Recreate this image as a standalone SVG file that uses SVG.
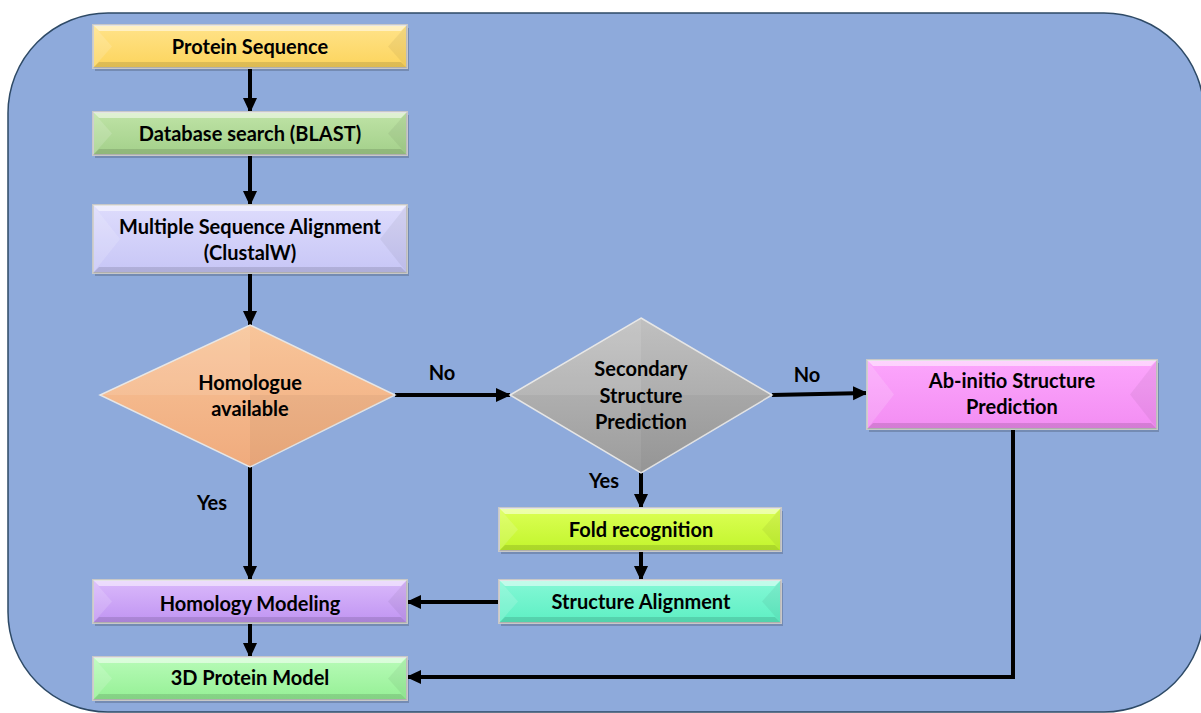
<svg xmlns="http://www.w3.org/2000/svg" width="1201" height="713" viewBox="0 0 1201 713">
<style>
text{font-family:Lato,"Liberation Sans",sans-serif;font-weight:bold;font-size:20px;fill:#000;text-anchor:middle}
.box{stroke:#c8c8c8;stroke-width:2}
.top{fill:#fff;opacity:.5}
.bot{fill:#000;opacity:.12}
.lft{fill:#fff;opacity:.15}
.rgt{fill:#000;opacity:.05}
.shadow{fill:#000;opacity:.18}
.dia{stroke:#e6e6e6;stroke-width:1.5}
.con{fill:none;stroke:#000;stroke-width:4}
.arr{marker-end:url(#ah)}
</style>
<defs>
<marker id="ah" markerUnits="userSpaceOnUse" markerWidth="16" markerHeight="16" refX="14" refY="8" orient="auto">
<path d="M0,1 L15,8 L0,15 Z" fill="#000"/>
</marker>
<linearGradient id="gY" x1="0" y1="0" x2="0" y2="1"><stop offset="0" stop-color="#ffe38a"/><stop offset="1" stop-color="#fcd45c"/></linearGradient>
<linearGradient id="gG" x1="0" y1="0" x2="0" y2="1"><stop offset="0" stop-color="#bfe3a6"/><stop offset="1" stop-color="#a3d08a"/></linearGradient>
<linearGradient id="gL" x1="0" y1="0" x2="0" y2="1"><stop offset="0" stop-color="#dedcfc"/><stop offset="1" stop-color="#c7c6f6"/></linearGradient>
<linearGradient id="gO" x1="0" y1="0" x2="0" y2="1"><stop offset="0" stop-color="#f8c59a"/><stop offset="1" stop-color="#f0ab7d"/></linearGradient>
<linearGradient id="gS" x1="0" y1="0" x2="0" y2="1"><stop offset="0" stop-color="#c0c0c0"/><stop offset="1" stop-color="#9c9c9c"/></linearGradient>
<linearGradient id="gP" x1="0" y1="0" x2="0" y2="1"><stop offset="0" stop-color="#fca6fc"/><stop offset="1" stop-color="#f38df3"/></linearGradient>
<linearGradient id="gF" x1="0" y1="0" x2="0" y2="1"><stop offset="0" stop-color="#dcff55"/><stop offset="1" stop-color="#c2f52c"/></linearGradient>
<linearGradient id="gA" x1="0" y1="0" x2="0" y2="1"><stop offset="0" stop-color="#85f8d6"/><stop offset="1" stop-color="#5defc3"/></linearGradient>
<linearGradient id="gV" x1="0" y1="0" x2="0" y2="1"><stop offset="0" stop-color="#dab9fb"/><stop offset="1" stop-color="#c094f2"/></linearGradient>
<linearGradient id="gM" x1="0" y1="0" x2="0" y2="1"><stop offset="0" stop-color="#b8fbb8"/><stop offset="1" stop-color="#95f095"/></linearGradient>
</defs>
<rect width="1201" height="713" fill="#fff"/>
<rect x="8" y="13" width="1196" height="699" rx="100" ry="100" fill="#8eaadb" stroke="#2e4a66" stroke-width="1.5"/>

<g id="connectors">
<line class="con arr" x1="250" y1="68" x2="250" y2="112"/>
<line class="con arr" x1="250" y1="155" x2="250" y2="205"/>
<line class="con arr" x1="250" y1="273" x2="250" y2="325"/>
<line class="con arr" x1="250" y1="467" x2="250" y2="580"/>
<line class="con arr" x1="250" y1="623" x2="250" y2="657"/>
<line class="con arr" x1="395" y1="395" x2="510" y2="395"/>
<line class="con arr" x1="772" y1="395" x2="867" y2="393"/>
<line class="con arr" x1="641" y1="473" x2="641" y2="508"/>
<line class="con arr" x1="641" y1="551" x2="641" y2="580"/>
<line class="con arr" x1="499" y1="602" x2="407" y2="602"/>
<polyline class="con arr" points="1013,429 1013,677 407,677"/>
<text x="442" y="380">No</text>
<text x="807" y="382">No</text>
<text x="604" y="488">Yes</text>
<text x="212" y="510">Yes</text>
</g>

<g id="n1">
<rect class="shadow" x="95" y="28" width="314" height="43"/>
<rect class="box" x="93" y="25" width="314" height="43" fill="url(#gY)"/>
<polygon class="top" points="93,25 407,25 401,31 99,31"/>
<polygon class="bot" points="93,68 407,68 401,62 99,62"/>
<polygon class="lft" points="93,25 112,46.5 93,68"/>
<polygon class="rgt" points="407,25 388,46.5 407,68"/>
<text x="250" y="54">Protein Sequence</text>
</g>

<g id="n2">
<rect class="shadow" x="95" y="115" width="314" height="43"/>
<rect class="box" x="93" y="112" width="314" height="43" fill="url(#gG)"/>
<polygon class="top" points="93,112 407,112 401,118 99,118"/>
<polygon class="bot" points="93,155 407,155 401,149 99,149"/>
<polygon class="lft" points="93,112 112,133.5 93,155"/>
<polygon class="rgt" points="407,112 388,133.5 407,155"/>
<text x="250" y="141">Database search (BLAST)</text>
</g>

<g id="n3">
<rect class="shadow" x="95" y="208" width="314" height="68"/>
<rect class="box" x="93" y="205" width="314" height="68" fill="url(#gL)"/>
<polygon class="top" points="93,205 407,205 401,211 99,211"/>
<polygon class="bot" points="93,273 407,273 401,267 99,267"/>
<polygon class="lft" points="93,205 120,239 93,273"/>
<polygon class="rgt" points="407,205 380,239 407,273"/>
<text x="250" y="234">Multiple Sequence Alignment</text>
<text x="250" y="260">(ClustalW)</text>
</g>

<g id="n4">
<polygon points="250,325 395,395 250,467 100,395" fill="url(#gO)" class="dia"/>
<polygon points="250,325 100,395 250,395" fill="#fff" opacity=".1"/>
<polygon points="250,467 395,395 250,395" fill="#000" opacity=".04"/>
<text x="250" y="390">Homologue</text>
<text x="250" y="416">available</text>
</g>

<g id="n5">
<polygon points="641,318 772,395 641,473 510,395" fill="url(#gS)" class="dia"/>
<polygon points="641,318 510,395 641,395" fill="#fff" opacity=".1"/>
<polygon points="641,473 772,395 641,395" fill="#000" opacity=".04"/>
<text x="641" y="376">Secondary</text>
<text x="641" y="403">Structure</text>
<text x="641" y="429">Prediction</text>
</g>

<g id="n6">
<rect class="shadow" x="869" y="363" width="290" height="69"/>
<rect class="box" x="867" y="360" width="290" height="69" fill="url(#gP)"/>
<polygon class="top" points="867,360 1157,360 1151,366 873,366"/>
<polygon class="bot" points="867,429 1157,429 1151,423 873,423"/>
<polygon class="lft" points="867,360 894,394.5 867,429"/>
<polygon class="rgt" points="1157,360 1130,394.5 1157,429"/>
<text x="1012" y="388">Ab-initio Structure</text>
<text x="1012" y="414">Prediction</text>
</g>

<g id="n7">
<rect class="shadow" x="501" y="511" width="282" height="43"/>
<rect class="box" x="499" y="508" width="282" height="43" fill="url(#gF)"/>
<polygon class="top" points="499,508 781,508 775,514 505,514"/>
<polygon class="bot" points="499,551 781,551 775,545 505,545"/>
<polygon class="lft" points="499,508 518,529.5 499,551"/>
<polygon class="rgt" points="781,508 762,529.5 781,551"/>
<text x="641" y="537">Fold recognition</text>
</g>

<g id="n8">
<rect class="shadow" x="501" y="583" width="282" height="43"/>
<rect class="box" x="499" y="580" width="282" height="43" fill="url(#gA)"/>
<polygon class="top" points="499,580 781,580 775,586 505,586"/>
<polygon class="bot" points="499,623 781,623 775,617 505,617"/>
<polygon class="lft" points="499,580 518,601.5 499,623"/>
<polygon class="rgt" points="781,580 762,601.5 781,623"/>
<text x="641" y="609">Structure Alignment</text>
</g>

<g id="n9">
<rect class="shadow" x="95" y="583" width="314" height="43"/>
<rect class="box" x="93" y="580" width="314" height="43" fill="url(#gV)"/>
<polygon class="top" points="93,580 407,580 401,586 99,586"/>
<polygon class="bot" points="93,623 407,623 401,617 99,617"/>
<polygon class="lft" points="93,580 112,601.5 93,623"/>
<polygon class="rgt" points="407,580 388,601.5 407,623"/>
<text x="250" y="611">Homology Modeling</text>
</g>

<g id="n10">
<rect class="shadow" x="95" y="660" width="314" height="43"/>
<rect class="box" x="93" y="657" width="314" height="43" fill="url(#gM)"/>
<polygon class="top" points="93,657 407,657 401,663 99,663"/>
<polygon class="bot" points="93,700 407,700 401,694 99,694"/>
<polygon class="lft" points="93,657 112,678.5 93,700"/>
<polygon class="rgt" points="407,657 388,678.5 407,700"/>
<text x="250" y="685">3D Protein Model</text>
</g>
</svg>
